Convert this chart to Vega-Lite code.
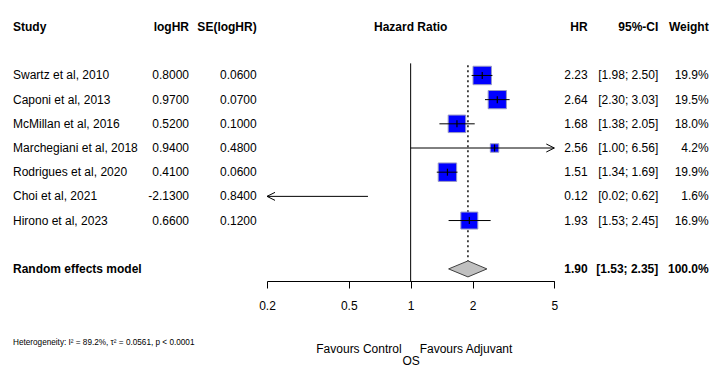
{
  "$schema": "https://vega.github.io/schema/vega-lite/v6.json",
  "padding": {"top": 15, "left": 13, "right": 2, "bottom": 0},
  "spacing": 10,
  "bounds": "flush",
  "datasets": {
    "studies": [
      {"study": "Swartz et al, 2010", "logHR": 0.80, "se": 0.06, "hr": 2.23, "lo": 1.98, "hi": 2.50, "w": 19.9},
      {"study": "Caponi et al, 2013", "logHR": 0.97, "se": 0.07, "hr": 2.64, "lo": 2.30, "hi": 3.03, "w": 19.5},
      {"study": "McMillan et al, 2016", "logHR": 0.52, "se": 0.10, "hr": 1.68, "lo": 1.38, "hi": 2.05, "w": 18.0},
      {"study": "Marchegiani et al, 2018", "logHR": 0.94, "se": 0.48, "hr": 2.56, "lo": 1.00, "hi": 6.56, "w": 4.2},
      {"study": "Rodrigues et al, 2020", "logHR": 0.41, "se": 0.06, "hr": 1.51, "lo": 1.34, "hi": 1.69, "w": 19.9},
      {"study": "Choi et al, 2021", "logHR": -2.13, "se": 0.84, "hr": 0.12, "lo": 0.02, "hi": 0.62, "w": 1.6},
      {"study": "Hirono et al, 2023", "logHR": 0.66, "se": 0.12, "hr": 1.93, "lo": 1.53, "hi": 2.45, "w": 16.9}
    ],
    "pooled": [
      {"study": "Random effects model", "hr": 1.90, "lo": 1.53, "hi": 2.35, "w": 100.0}
    ]
  },
  "hconcat": [
    {
      "width": 176,
      "height": 266,
      "encoding": {
        "y": {"field": "study", "type": "nominal", "axis": null,
          "scale": {"type": "band", "paddingInner": 0, "paddingOuter": 0,
            "domain": ["hdr", "gap1", "Swartz et al, 2010", "Caponi et al, 2013", "McMillan et al, 2016", "Marchegiani et al, 2018", "Rodrigues et al, 2020", "Choi et al, 2021", "Hirono et al, 2023", "gap2", "Random effects model"]}}
      },
      "layer": [
        {"data": {"values": [{"label": "Study"}]},
         "mark": {"type": "text", "align": "left", "fontWeight": "bold"},
         "encoding": {"x": {"value": 0}, "y": {"datum": "hdr"}, "text": {"field": "label"}}},
        {"data": {"values": [{"label": "logHR"}]},
         "mark": {"type": "text", "align": "right", "fontWeight": "bold"},
         "encoding": {"x": {"value": "width"}, "y": {"datum": "hdr"}, "text": {"field": "label"}}},
        {"data": {"name": "studies"},
         "mark": {"type": "text", "align": "left"},
         "encoding": {"x": {"value": 0}, "text": {"field": "study"}}},
        {"data": {"name": "studies"},
         "transform": [{"calculate": "replace(format(datum.logHR, '.4f'), '\u2212', '-')", "as": "logTxt"}],
         "mark": {"type": "text", "align": "right"},
         "encoding": {"x": {"value": "width"}, "text": {"field": "logTxt"}}},
        {"data": {"name": "pooled"},
         "mark": {"type": "text", "align": "left", "fontWeight": "bold"},
         "encoding": {"x": {"value": 0}, "text": {"field": "study"}}},
        {"data": {"values": [{"label": "Heterogeneity: I² = 89.2%, τ² = 0.0561, p < 0.0001"}]},
         "mark": {"type": "text", "align": "left", "fontSize": 8.2, "dy": 62},
         "encoding": {"x": {"value": 0}, "y": {"value": "height"}, "text": {"field": "label"}}}
      ]
    },
    {
      "width": 57.7,
      "height": 266,
      "encoding": {
        "y": {"field": "study", "type": "nominal", "axis": null,
          "scale": {"type": "band", "paddingInner": 0, "paddingOuter": 0,
            "domain": ["hdr", "gap1", "Swartz et al, 2010", "Caponi et al, 2013", "McMillan et al, 2016", "Marchegiani et al, 2018", "Rodrigues et al, 2020", "Choi et al, 2021", "Hirono et al, 2023", "gap2", "Random effects model"]}}
      },
      "layer": [
        {"data": {"values": [{"label": "SE(logHR)"}]},
         "mark": {"type": "text", "align": "right", "fontWeight": "bold"},
         "encoding": {"x": {"value": "width"}, "y": {"datum": "hdr"}, "text": {"field": "label"}}},
        {"data": {"name": "studies"},
         "mark": {"type": "text", "align": "right"},
         "encoding": {"x": {"value": "width"}, "text": {"field": "se", "type": "quantitative", "format": ".4f"}}}
      ]
    },
    {
      "width": 287.3,
      "height": 266,
      "encoding": {
        "y": {"field": "study", "type": "nominal", "axis": null,
          "scale": {"type": "band", "paddingInner": 0, "paddingOuter": 0,
            "domain": ["hdr", "gap1", "Swartz et al, 2010", "Caponi et al, 2013", "McMillan et al, 2016", "Marchegiani et al, 2018", "Rodrigues et al, 2020", "Choi et al, 2021", "Hirono et al, 2023", "gap2", "Random effects model"]}}
      },
      "layer": [
        {"data": {"name": "pooled"},
         "mark": {"type": "rule", "color": "#000", "strokeWidth": 1},
         "encoding": {
           "x": {"datum": 1, "type": "quantitative",
             "scale": {"type": "log", "domain": [0.2, 5], "nice": false, "clamp": true},
             "axis": {"values": [0.2, 0.5, 1, 2, 5], "format": "~g", "grid": false,
               "domainColor": "#000", "tickColor": "#000", "tickSize": 7,
               "labelColor": "#000", "labelFontSize": 12,
               "labelPadding": 12, "labelFlush": false, "labelOverlap": false,
               "title": "OS", "titleFontSize": 12, "titleFontWeight": "normal", "titleColor": "#000",
               "titlePadding": 44}},
           "y": {"datum": "Swartz et al, 2010", "bandPosition": 0},
           "y2": {"value": "height"}}},
        {"data": {"name": "pooled"},
         "mark": {"type": "rule", "color": "#000", "strokeWidth": 1.4, "strokeDash": [2, 3], "yOffset": 2, "y2Offset": -8},
         "encoding": {
           "x": {"field": "hr", "type": "quantitative"},
           "y": {"datum": "Swartz et al, 2010", "bandPosition": 0},
           "y2": {"datum": "Random effects model", "bandPosition": 0.5}}},
        {"data": {"name": "studies"},
         "transform": [{"filter": "datum.hr >= 0.2 && datum.hr <= 5"}],
         "mark": {"type": "square", "filled": true, "fill": "#0000ff", "stroke": "#9a9ac4", "strokeWidth": 1, "opacity": 1},
         "encoding": {
           "x": {"field": "hr", "type": "quantitative"},
           "size": {"field": "w", "type": "quantitative", "legend": null,
             "scale": {"type": "linear", "domain": [0, 19.9], "range": [0, 340]}}}},
        {"data": {"name": "studies"},
         "mark": {"type": "rule", "color": "#000", "strokeWidth": 1},
         "encoding": {
           "x": {"field": "lo", "type": "quantitative"},
           "x2": {"field": "hi"}}},
        {"data": {"name": "studies"},
         "transform": [{"filter": "datum.hr >= 0.2 && datum.hr <= 5"}],
         "mark": {"type": "tick", "orient": "vertical", "color": "#000", "size": 7, "thickness": 1.2, "opacity": 1},
         "encoding": {"x": {"field": "hr", "type": "quantitative"}}},
        {"data": {"name": "studies"},
         "transform": [{"filter": "datum.hi > 5"}],
         "mark": {"type": "point", "shape": "M0,0L-1,-0.5M0,0L-1,0.5", "filled": false, "stroke": "#000", "strokeWidth": 1, "size": 256, "opacity": 1},
         "encoding": {"x": {"field": "hi", "type": "quantitative"}}},
        {"data": {"name": "studies"},
         "transform": [{"filter": "datum.lo < 0.2"}],
         "mark": {"type": "point", "shape": "M0,0L1,-0.5M0,0L1,0.5", "filled": false, "stroke": "#000", "strokeWidth": 1, "size": 256, "opacity": 1},
         "encoding": {"x": {"field": "lo", "type": "quantitative"}}},
        {"data": {"name": "pooled"},
         "transform": [
           {"calculate": "[datum.lo, datum.hr, datum.hi, datum.hr, datum.lo]", "as": "vx"},
           {"calculate": "[0, -1, 0, 1, 0]", "as": "vy"},
           {"calculate": "[0, 1, 2, 3, 4]", "as": "vi"},
           {"flatten": ["vx", "vy", "vi"]}
         ],
         "mark": {"type": "line", "fill": "#c0c0c0", "stroke": "#404040", "strokeWidth": 1},
         "encoding": {
           "x": {"field": "vx", "type": "quantitative"},
           "yOffset": {"field": "vy", "type": "quantitative", "scale": {"domain": [-1, 1], "range": [4.1, 20.1]}},
           "order": {"field": "vi", "type": "quantitative"}}},
        {"data": {"values": [{"label": "Hazard Ratio"}]},
         "mark": {"type": "text", "align": "center", "fontWeight": "bold"},
         "encoding": {"x": {"datum": 1, "type": "quantitative"}, "y": {"datum": "hdr"}, "text": {"field": "label"}}},
        {"data": {"values": [{"label": "Favours Control"}]},
         "mark": {"type": "text", "align": "right", "dx": -9, "dy": 68, "fontSize": 12},
         "encoding": {"x": {"datum": 1, "type": "quantitative"}, "y": {"value": "height"}, "text": {"field": "label"}}},
        {"data": {"values": [{"label": "Favours Adjuvant"}]},
         "mark": {"type": "text", "align": "left", "dx": 9, "dy": 68, "fontSize": 12},
         "encoding": {"x": {"datum": 1, "type": "quantitative"}, "y": {"value": "height"}, "text": {"field": "label"}}}
      ]
    },
    {
      "width": 22.7,
      "height": 266,
      "encoding": {
        "y": {"field": "study", "type": "nominal", "axis": null,
          "scale": {"type": "band", "paddingInner": 0, "paddingOuter": 0,
            "domain": ["hdr", "gap1", "Swartz et al, 2010", "Caponi et al, 2013", "McMillan et al, 2016", "Marchegiani et al, 2018", "Rodrigues et al, 2020", "Choi et al, 2021", "Hirono et al, 2023", "gap2", "Random effects model"]}}
      },
      "layer": [
        {"data": {"values": [{"label": "HR"}]},
         "mark": {"type": "text", "align": "right", "fontWeight": "bold"},
         "encoding": {"x": {"value": "width"}, "y": {"datum": "hdr"}, "text": {"field": "label"}}},
        {"data": {"name": "studies"},
         "mark": {"type": "text", "align": "right"},
         "encoding": {"x": {"value": "width"}, "text": {"field": "hr", "type": "quantitative", "format": ".2f"}}},
        {"data": {"name": "pooled"},
         "mark": {"type": "text", "align": "right", "fontWeight": "bold"},
         "encoding": {"x": {"value": "width"}, "text": {"field": "hr", "type": "quantitative", "format": ".2f"}}}
      ]
    },
    {
      "width": 60.3,
      "height": 266,
      "encoding": {
        "y": {"field": "study", "type": "nominal", "axis": null,
          "scale": {"type": "band", "paddingInner": 0, "paddingOuter": 0,
            "domain": ["hdr", "gap1", "Swartz et al, 2010", "Caponi et al, 2013", "McMillan et al, 2016", "Marchegiani et al, 2018", "Rodrigues et al, 2020", "Choi et al, 2021", "Hirono et al, 2023", "gap2", "Random effects model"]}}
      },
      "layer": [
        {"data": {"values": [{"label": "95%-CI"}]},
         "mark": {"type": "text", "align": "right", "fontWeight": "bold"},
         "encoding": {"x": {"value": "width"}, "y": {"datum": "hdr"}, "text": {"field": "label"}}},
        {"data": {"name": "studies"},
         "transform": [{"calculate": "'[' + format(datum.lo, '.2f') + '; ' + format(datum.hi, '.2f') + ']'", "as": "ci"}],
         "mark": {"type": "text", "align": "right"},
         "encoding": {"x": {"value": "width"}, "text": {"field": "ci"}}},
        {"data": {"name": "pooled"},
         "transform": [{"calculate": "'[' + format(datum.lo, '.2f') + '; ' + format(datum.hi, '.2f') + ']'", "as": "ci"}],
         "mark": {"type": "text", "align": "right", "fontWeight": "bold"},
         "encoding": {"x": {"value": "width"}, "text": {"field": "ci"}}}
      ]
    },
    {
      "width": 39.7,
      "height": 266,
      "encoding": {
        "y": {"field": "study", "type": "nominal", "axis": null,
          "scale": {"type": "band", "paddingInner": 0, "paddingOuter": 0,
            "domain": ["hdr", "gap1", "Swartz et al, 2010", "Caponi et al, 2013", "McMillan et al, 2016", "Marchegiani et al, 2018", "Rodrigues et al, 2020", "Choi et al, 2021", "Hirono et al, 2023", "gap2", "Random effects model"]}}
      },
      "layer": [
        {"data": {"values": [{"label": "Weight"}]},
         "mark": {"type": "text", "align": "right", "fontWeight": "bold"},
         "encoding": {"x": {"value": "width"}, "y": {"datum": "hdr"}, "text": {"field": "label"}}},
        {"data": {"name": "studies"},
         "transform": [{"calculate": "format(datum.w, '.1f') + '%'", "as": "wt"}],
         "mark": {"type": "text", "align": "right"},
         "encoding": {"x": {"value": "width"}, "text": {"field": "wt"}}},
        {"data": {"name": "pooled"},
         "transform": [{"calculate": "format(datum.w, '.1f') + '%'", "as": "wt"}],
         "mark": {"type": "text", "align": "right", "fontWeight": "bold"},
         "encoding": {"x": {"value": "width"}, "text": {"field": "wt"}}}
      ]
    }
  ],
  "config": {
    "font": "Liberation Sans",
    "view": {"stroke": null},
    "text": {"fontSize": 12, "color": "#000", "baseline": "middle"}
  }
}
